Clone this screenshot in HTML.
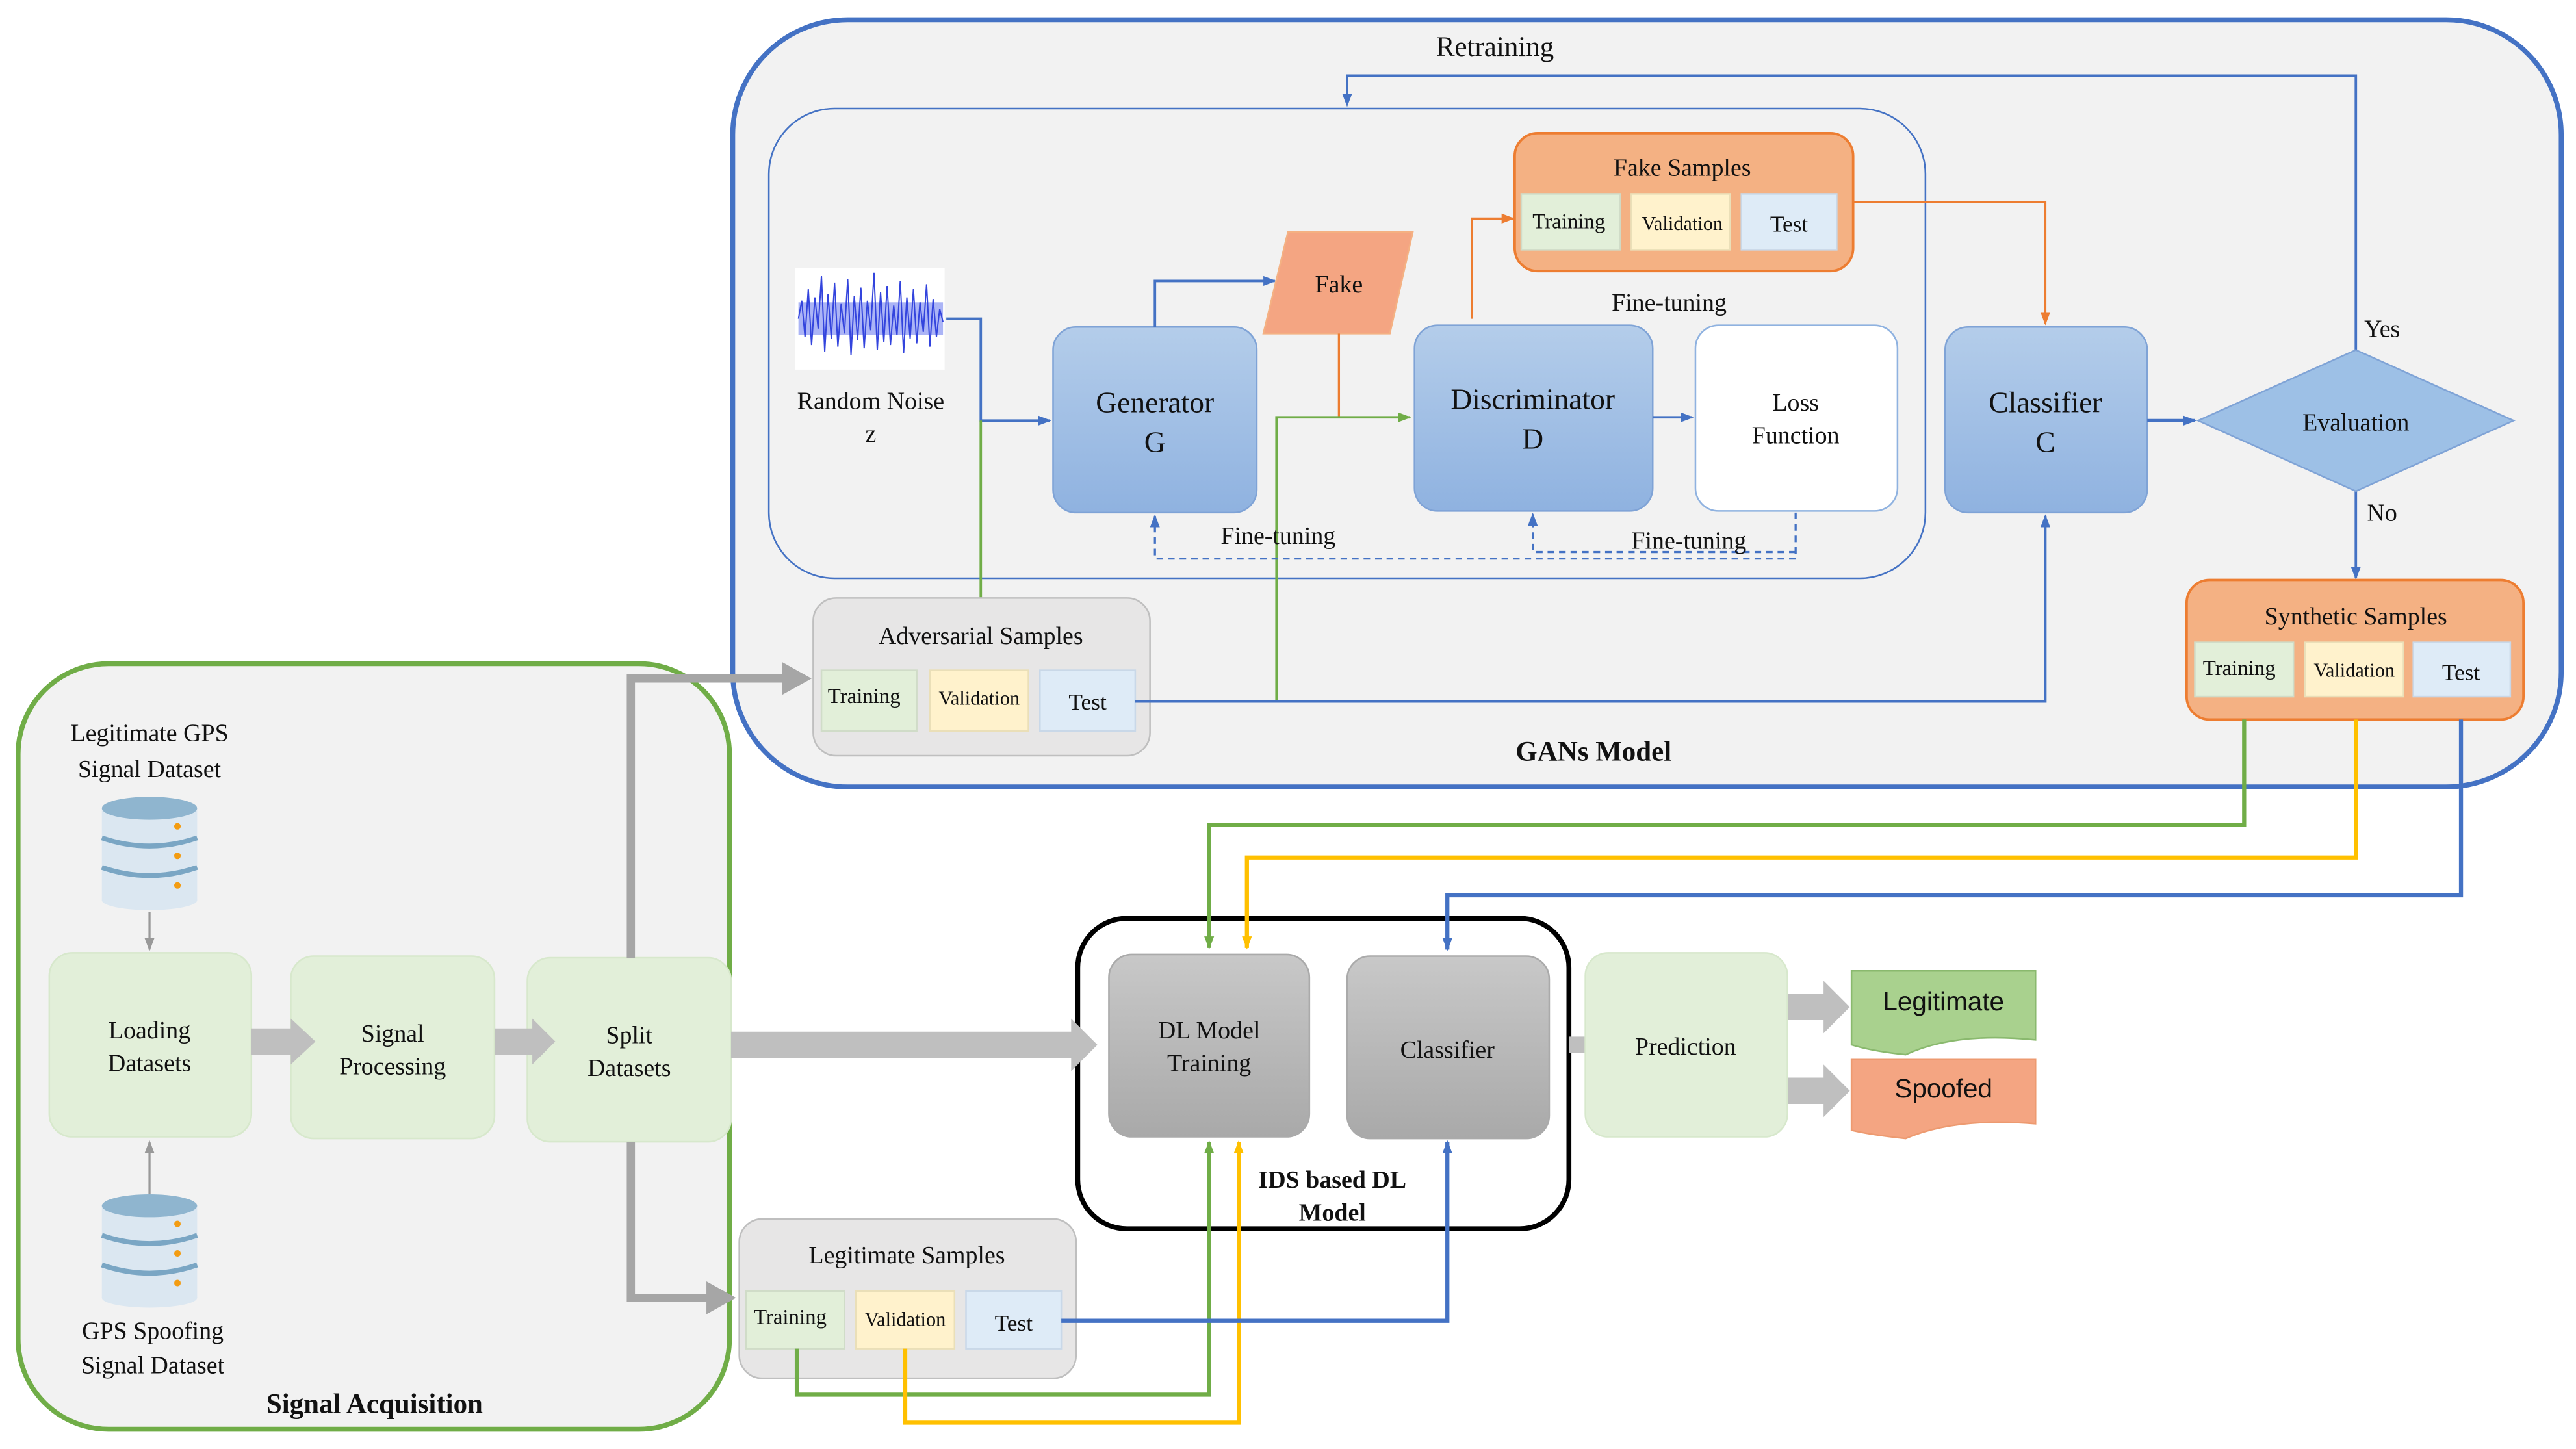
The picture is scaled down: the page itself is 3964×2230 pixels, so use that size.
<!DOCTYPE html>
<html><head><meta charset="utf-8"><style>
html,body{margin:0;padding:0;background:#fff}
svg{display:block}
svg text{font-family:"Liberation Serif",serif;fill:#111}
</style></head><body>
<svg width="3964" height="2230" viewBox="0 0 1568 882" xmlns="http://www.w3.org/2000/svg" font-family="Liberation Serif, serif">
<defs>
<linearGradient id="bl" x1="0" y1="0" x2="0" y2="1"><stop offset="0" stop-color="#b4cdea"/><stop offset="1" stop-color="#8fb2e0"/></linearGradient>
<linearGradient id="gr" x1="0" y1="0" x2="0" y2="1"><stop offset="0" stop-color="#c8c8c8"/><stop offset="1" stop-color="#a9a9a9"/></linearGradient>
<marker id="ab" markerWidth="8" markerHeight="8" refX="7" refY="4" orient="auto" markerUnits="userSpaceOnUse"><path d="M0,1 L8,4 L0,7z" fill="#4472c4"/></marker>
<marker id="ao" markerWidth="8" markerHeight="8" refX="7" refY="4" orient="auto" markerUnits="userSpaceOnUse"><path d="M0,1 L8,4 L0,7z" fill="#ed7d31"/></marker>
<marker id="ag" markerWidth="8" markerHeight="8" refX="7" refY="4" orient="auto" markerUnits="userSpaceOnUse"><path d="M0,1 L8,4 L0,7z" fill="#70ad47"/></marker>
<marker id="ay" markerWidth="8" markerHeight="8" refX="7" refY="4" orient="auto" markerUnits="userSpaceOnUse"><path d="M0,1 L8,4 L0,7z" fill="#ffc000"/></marker>
<marker id="ak" markerWidth="8" markerHeight="8" refX="7" refY="4" orient="auto" markerUnits="userSpaceOnUse"><path d="M0,1 L8,4 L0,7z" fill="#999"/></marker>
</defs>

<rect x="446" y="12" width="1113" height="467" rx="70" fill="#f2f2f2" stroke="#4472c4" stroke-width="3"/>
<rect x="468" y="66" width="704" height="286" rx="40" fill="none" stroke="#4472c4" stroke-width="1"/>
<rect x="11" y="404" width="433" height="466" rx="55" fill="#f2f2f2" stroke="#70ad47" stroke-width="3"/>

<text x="910" y="34" font-size="17" text-anchor="middle">Retraining</text>
<text x="970" y="463" font-size="17" font-weight="bold" text-anchor="middle">GANs Model</text>
<text x="228" y="860" font-size="17" font-weight="bold" text-anchor="middle">Signal Acquisition</text>

<polyline points="1434,214 1434,46 820,46 820,64" fill="none" stroke="#4472c4" stroke-width="1.5" marker-end="url(#ab)"/>
<text x="1450" y="205" font-size="15" text-anchor="middle">Yes</text>
<line x1="1434" y1="299" x2="1434" y2="352" stroke="#4472c4" stroke-width="1.5" marker-end="url(#ab)"/>
<text x="1450" y="317" font-size="15" text-anchor="middle">No</text>

<rect x="484" y="163" width="91" height="62" fill="#fff"/>
<rect x="486" y="184" width="88" height="20" fill="#6677ee" opacity="0.55"/>
<path d="M486,194 L488,183 L490,205 L492,176 L494,210 L496,181 L498,200 L500,168 L502,214 L504,179 L506,206 L508,172 L510,211 L512,185 L514,203 L516,170 L518,216 L520,180 L522,207 L524,175 L526,212 L528,183 L530,201 L532,166 L534,213 L536,178 L538,208 L540,174 L542,210 L544,186 L546,204 L548,171 L550,215 L552,181 L554,206 L556,176 L558,209 L560,184 L562,202 L564,173 L566,211 L568,182 L570,205 L572,188 L574,196" fill="none" stroke="#3344dd" stroke-width="0.8"/>
<text x="530" y="249" font-size="15" text-anchor="middle">Random Noise</text>
<text x="530" y="269" font-size="15" text-anchor="middle">z</text>
<polyline points="576,194 597,194 597,256 639,256" fill="none" stroke="#4472c4" stroke-width="1.5" marker-end="url(#ab)"/>
<line x1="597" y1="256" x2="597" y2="364" stroke="#70ad47" stroke-width="1.5"/>

<rect x="641" y="199" width="124" height="113" rx="14" fill="url(#bl)" stroke="#7fa3d6"/>
<text x="703" y="251" font-size="18" text-anchor="middle">Generator</text>
<text x="703" y="275" font-size="18" text-anchor="middle">G</text>
<polyline points="703,199 703,171 776,171" fill="none" stroke="#4472c4" stroke-width="1.5" marker-end="url(#ab)"/>
<polygon points="784,141 860,141 846,203 769,203" fill="#f4a582" stroke="#f4b183"/>
<text x="815" y="178" font-size="15" text-anchor="middle">Fake</text>
<polyline points="815,203 815,254 858,254" fill="none" stroke="#ed7d31" stroke-width="1.3"/>
<polyline points="777,427 777,254 858,254" fill="none" stroke="#70ad47" stroke-width="1.5" marker-end="url(#ag)"/>

<rect x="861" y="198" width="145" height="113" rx="14" fill="url(#bl)" stroke="#7fa3d6"/>
<text x="933" y="249" font-size="18" text-anchor="middle">Discriminator</text>
<text x="933" y="273" font-size="18" text-anchor="middle">D</text>
<line x1="1006" y1="254" x2="1030" y2="254" stroke="#4472c4" stroke-width="1.5" marker-end="url(#ab)"/>
<rect x="1032" y="198" width="123" height="113" rx="14" fill="#fff" stroke="#8fb2e0"/>
<text x="1093" y="250" font-size="15" text-anchor="middle">Loss</text>
<text x="1093" y="270" font-size="15" text-anchor="middle">Function</text>
<polyline points="896,194 896,133 921,133" fill="none" stroke="#ed7d31" stroke-width="1.3" marker-end="url(#ao)"/>
<text x="1016" y="189" font-size="15" text-anchor="middle">Fine-tuning</text>

<polyline points="1093,312 1093,340 703,340 703,314" fill="none" stroke="#4472c4" stroke-width="1.3" stroke-dasharray="4,3" marker-end="url(#ab)"/>
<polyline points="1093,336 933,336 933,313" fill="none" stroke="#4472c4" stroke-width="1.3" stroke-dasharray="4,3" marker-end="url(#ab)"/>
<text x="778" y="331" font-size="15" text-anchor="middle">Fine-tuning</text>
<text x="1028" y="334" font-size="15" text-anchor="middle">Fine-tuning</text>

<rect x="922" y="81" width="206" height="84" rx="14" fill="#f4b183" stroke="#ed7d31" stroke-width="1.5"/>
<text x="1024" y="107" font-size="15" text-anchor="middle">Fake Samples</text>
<rect x="926" y="118" width="60" height="34" fill="#e2efd9" stroke="#d0dcc8"/>
<rect x="993" y="118" width="60" height="34" fill="#fff2cc" stroke="#eadfb8"/>
<rect x="1060" y="118" width="58" height="34" fill="#deebf7" stroke="#c9d8e8"/>
<text x="955" y="139" font-size="13" text-anchor="middle">Training</text>
<text x="1024" y="140" font-size="12" text-anchor="middle">Validation</text>
<text x="1089" y="141" font-size="14" text-anchor="middle">Test</text>
<polyline points="1128,123 1245,123 1245,197" fill="none" stroke="#ed7d31" stroke-width="1.3" marker-end="url(#ao)"/>

<rect x="1184" y="199" width="123" height="113" rx="14" fill="url(#bl)" stroke="#7fa3d6"/>
<text x="1245" y="251" font-size="18" text-anchor="middle">Classifier</text>
<text x="1245" y="275" font-size="18" text-anchor="middle">C</text>
<line x1="1307" y1="256" x2="1336" y2="256" stroke="#4472c4" stroke-width="2" marker-end="url(#ab)"/>
<polygon points="1434,213 1530,256 1434,299 1338,256" fill="#9dc0e6" stroke="#7fa3d6"/>
<text x="1434" y="262" font-size="15" text-anchor="middle">Evaluation</text>

<rect x="495" y="364" width="205" height="96" rx="14" fill="#e7e6e6" stroke="#bfbfbf"/>
<text x="597" y="392" font-size="15" text-anchor="middle">Adversarial Samples</text>
<rect x="500" y="408" width="58" height="37" fill="#e2efd9" stroke="#d0dcc8"/>
<rect x="566" y="408" width="60" height="37" fill="#fff2cc" stroke="#eadfb8"/>
<rect x="633" y="408" width="58" height="37" fill="#deebf7" stroke="#c9d8e8"/>
<text x="526" y="428" font-size="13" text-anchor="middle">Training</text>
<text x="596" y="429" font-size="12" text-anchor="middle">Validation</text>
<text x="662" y="432" font-size="14" text-anchor="middle">Test</text>
<polyline points="691,427 1245,427 1245,314" fill="none" stroke="#4472c4" stroke-width="1.5" marker-end="url(#ab)"/>

<rect x="1331" y="353" width="205" height="85" rx="14" fill="#f4b183" stroke="#ed7d31" stroke-width="1.5"/>
<text x="1434" y="380" font-size="15" text-anchor="middle">Synthetic Samples</text>
<rect x="1336" y="391" width="60" height="33" fill="#e2efd9" stroke="#d0dcc8"/>
<rect x="1403" y="391" width="60" height="33" fill="#fff2cc" stroke="#eadfb8"/>
<rect x="1469" y="391" width="59" height="33" fill="#deebf7" stroke="#c9d8e8"/>
<text x="1363" y="411" font-size="13" text-anchor="middle">Training</text>
<text x="1433" y="412" font-size="12" text-anchor="middle">Validation</text>
<text x="1498" y="414" font-size="14" text-anchor="middle">Test</text>

<text x="91" y="451" font-size="15" text-anchor="middle">Legitimate  GPS</text>
<text x="91" y="473" font-size="15" text-anchor="middle">Signal Dataset</text>
<g id="db">
<rect x="62" y="492" width="58" height="56" fill="#dbe7f1"/>
<ellipse cx="91" cy="548" rx="29" ry="6" fill="#dbe7f1"/>
<ellipse cx="91" cy="492" rx="29" ry="7" fill="#8fb5cf"/>
<path d="M62,510 Q91,520 120,510 M62,528 Q91,538 120,528" fill="none" stroke="#7aa6c4" stroke-width="3"/>
<circle cx="108" cy="503" r="2" fill="#f39c12"/><circle cx="108" cy="521" r="2" fill="#f39c12"/><circle cx="108" cy="539" r="2" fill="#f39c12"/>
</g>
<use href="#db" y="242"/>
<line x1="91" y1="555" x2="91" y2="578" stroke="#999" stroke-width="1.3" marker-end="url(#ak)"/>
<line x1="91" y1="727" x2="91" y2="695" stroke="#999" stroke-width="1.3" marker-end="url(#ak)"/>
<text x="93" y="815" font-size="15" text-anchor="middle">GPS Spoofing</text>
<text x="93" y="836" font-size="15" text-anchor="middle">Signal Dataset</text>

<rect x="30" y="580" width="123" height="112" rx="14" fill="#e2efd9" stroke="#d7e8cc"/>
<text x="91" y="632" font-size="15" text-anchor="middle">Loading</text>
<text x="91" y="652" font-size="15" text-anchor="middle">Datasets</text>
<rect x="177" y="582" width="124" height="111" rx="14" fill="#e2efd9" stroke="#d7e8cc"/>
<text x="239" y="634" font-size="15" text-anchor="middle">Signal</text>
<text x="239" y="654" font-size="15" text-anchor="middle">Processing</text>
<rect x="321" y="583" width="124" height="112" rx="14" fill="#e2efd9" stroke="#d7e8cc"/>
<text x="383" y="635" font-size="15" text-anchor="middle">Split</text>
<text x="383" y="655" font-size="15" text-anchor="middle">Datasets</text>

<!-- IDS container first -->
<rect x="656" y="559" width="299" height="189" rx="30" fill="#fff" stroke="#000" stroke-width="3"/>

<g fill="#bfbfbf">
<polygon points="153,626 177,626 177,620 192,634 177,648 177,642 153,642"/>
<polygon points="301,626 324,626 324,620 338,634 324,648 324,642 301,642"/>
<polygon points="445,628 652,628 652,620 668,636 652,652 652,644 445,644"/>
<polygon points="955,631 967,631 967,623 980,636 967,649 967,641 955,641"/>
<polygon points="1088,605 1110,605 1110,597 1126,613 1110,629 1110,621 1088,621"/>
<polygon points="1088,656 1110,656 1110,648 1126,664 1110,680 1110,672 1088,672"/>
</g>
<g fill="none" stroke="#a6a6a6" stroke-width="5">
<polyline points="384,583 384,413 478,413"/>
<polyline points="384,695 384,790 432,790"/>
</g>
<polygon points="476,403 494,413 476,423" fill="#a6a6a6"/>
<polygon points="430,780 448,790 430,800" fill="#a6a6a6"/>

<rect x="675" y="581" width="122" height="111" rx="14" fill="url(#gr)" stroke="#aaa"/>
<text x="736" y="632" font-size="15" text-anchor="middle">DL Model</text>
<text x="736" y="652" font-size="15" text-anchor="middle">Training</text>
<rect x="820" y="582" width="123" height="111" rx="14" fill="url(#gr)" stroke="#aaa"/>
<text x="881" y="644" font-size="15" text-anchor="middle">Classifier</text>
<text x="811" y="723" font-size="15" font-weight="bold" text-anchor="middle">IDS based DL</text>
<text x="811" y="743" font-size="15" font-weight="bold" text-anchor="middle">Model</text>

<polyline points="1366,438 1366,502 736,502 736,577" fill="none" stroke="#70ad47" stroke-width="2.5" marker-end="url(#ag)"/>
<polyline points="1434,438 1434,522 759,522 759,577" fill="none" stroke="#ffc000" stroke-width="2.5" marker-end="url(#ay)"/>
<polyline points="1498,438 1498,545 881,545 881,578" fill="none" stroke="#4472c4" stroke-width="2.5" marker-end="url(#ab)"/>

<rect x="965" y="580" width="123" height="112" rx="14" fill="#e2efd9" stroke="#d7e8cc"/>
<text x="1026" y="642" font-size="15" text-anchor="middle">Prediction</text>

<path d="M1127,591 H1239 V633 Q1190,628 1160,642 Q1140,640 1127,636 Z" fill="#a9d18e" stroke="#8ab96e"/>
<text x="1183" y="615" font-size="16" text-anchor="middle" style="font-family:'Liberation Sans',sans-serif">Legitimate</text>
<path d="M1127,645 H1239 V684 Q1190,680 1160,693 Q1140,691 1127,688 Z" fill="#f4a582" stroke="#ed9a70"/>
<text x="1183" y="668" font-size="16" text-anchor="middle" style="font-family:'Liberation Sans',sans-serif">Spoofed</text>

<rect x="450" y="742" width="205" height="97" rx="14" fill="#e7e6e6" stroke="#bfbfbf"/>
<text x="552" y="769" font-size="15" text-anchor="middle">Legitimate Samples</text>
<rect x="454" y="786" width="60" height="35" fill="#e2efd9" stroke="#d0dcc8"/>
<rect x="521" y="786" width="60" height="35" fill="#fff2cc" stroke="#eadfb8"/>
<rect x="588" y="786" width="58" height="35" fill="#deebf7" stroke="#c9d8e8"/>
<text x="481" y="806" font-size="13" text-anchor="middle">Training</text>
<text x="551" y="807" font-size="12" text-anchor="middle">Validation</text>
<text x="617" y="810" font-size="14" text-anchor="middle">Test</text>
<polyline points="485,821 485,849 736,849 736,695" fill="none" stroke="#70ad47" stroke-width="2.5" marker-end="url(#ag)"/>
<polyline points="551,821 551,866 754,866 754,695" fill="none" stroke="#ffc000" stroke-width="2.5" marker-end="url(#ay)"/>
<polyline points="646,804 881,804 881,695" fill="none" stroke="#4472c4" stroke-width="2.5" marker-end="url(#ab)"/>
</svg>
</body></html>
